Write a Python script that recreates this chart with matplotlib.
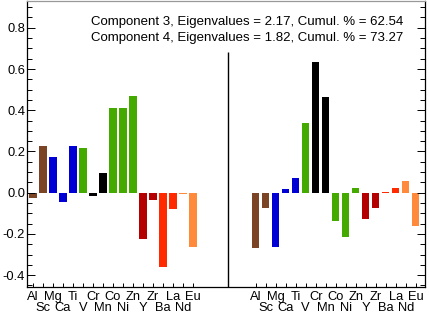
import matplotlib
matplotlib.use("Agg")
import matplotlib.pyplot as plt
import numpy as np

plt.rcParams['font.family'] = ['Liberation Sans', 'DejaVu Sans']

elements = ["Al", "Sc", "Mg", "Ca", "Ti", "V", "Cr", "Mn", "Co", "Ni", "Zn",
            "Y", "Zr", "Ba", "La", "Nd", "Eu"]
comp3 = [-0.024, 0.228, 0.172, -0.047, 0.225, 0.217, -0.016, 0.096, 0.411, 0.411,
         0.471, -0.226, -0.037, -0.359, -0.079, -0.008, -0.262]
comp4 = [-0.270, -0.076, -0.265, 0.019, 0.073, 0.337, 0.633, 0.463, -0.137, -0.217,
         0.021, -0.129, -0.073, 0.002, 0.024, 0.055, -0.162]
colors = ["#7b4424", "#7b4424", "#0000d4", "#0000d4", "#0000d4", "#44aa00",
          "#000000", "#000000", "#44aa00", "#44aa00", "#44aa00",
          "#b40000", "#b40000", "#ff2a00", "#ff2a00", "#ff8a3c", "#ff8a3c"]
text3 = "Component 3, Eigenvalues = 2.17, Cumul. % = 62.54"
text4 = "Component 4, Eigenvalues = 1.82, Cumul. % = 73.27"

fig = plt.figure(figsize=(4.29, 3.16), dpi=100)
ax = fig.add_axes([26.7/429, 29.5/316, (425-26.7)/429, (315-29.5)/316])

n = len(elements)
x_left = np.arange(n)
offset = 22.27
x_right = x_left + offset
sep = 19.53

ax.bar(x_left, comp3, width=0.72, color=colors, linewidth=0)
ax.bar(x_right, comp4, width=0.72, color=colors, linewidth=0)

ax.set_xlim(-0.63, 39.2)
ax.set_ylim(-0.455, 0.93)
ax.vlines(sep, -0.455, 0.685, color="black", lw=1.0)

# x ticks: row 1 (even index) as major, row 2 (odd index) as minor
idx_even = np.arange(0, n, 2)
idx_odd = np.arange(1, n, 2)
maj_pos = np.concatenate([x_left[idx_even], x_right[idx_even]])
maj_lab = [elements[i] for i in idx_even] * 2
min_pos = np.concatenate([x_left[idx_odd], x_right[idx_odd]])
min_lab = [elements[i] for i in idx_odd] * 2
ax.set_xticks(maj_pos)
ax.set_xticklabels(maj_lab, fontsize=9.3)
ax.set_xticks(min_pos, minor=True)
ax.set_xticklabels(min_lab, minor=True, fontsize=9.3)
ax.tick_params(axis='x', which='major', direction='in', length=3.2, width=0.7,
               pad=3.0, top=False)
ax.tick_params(axis='x', which='minor', direction='in', length=3.2, width=0.7,
               pad=11.3, top=False)

ax.set_yticks([-0.4, -0.2, 0.0, 0.2, 0.4, 0.6, 0.8])
ax.set_yticklabels(["-0.4", "-0.2", "0.0", "0.2", "0.4", "0.6", "0.8"], fontsize=9.3)
ax.set_yticks(np.arange(-0.45, 0.93, 0.05), minor=True)
ax.tick_params(axis='y', which='major', direction='in', length=5.8, width=0.7,
               pad=1.2, left=True, right=True, labelright=False)
ax.tick_params(axis='y', which='minor', direction='in', length=3.5, width=0.7,
               left=True, right=True)

for s in ["left", "bottom", "right"]:
    ax.spines[s].set_color("black")
    ax.spines[s].set_linewidth(0.9)
ax.spines["top"].set_color("#999999")
ax.spines["top"].set_linewidth(0.9)

ax.text(0.554, 0.926, text3, transform=ax.transAxes, ha="center", va="center",
        fontsize=9.5)
ax.text(0.554, 0.870, text4, transform=ax.transAxes, ha="center", va="center",
        fontsize=9.5)

fig.savefig("out.png", dpi=100)
